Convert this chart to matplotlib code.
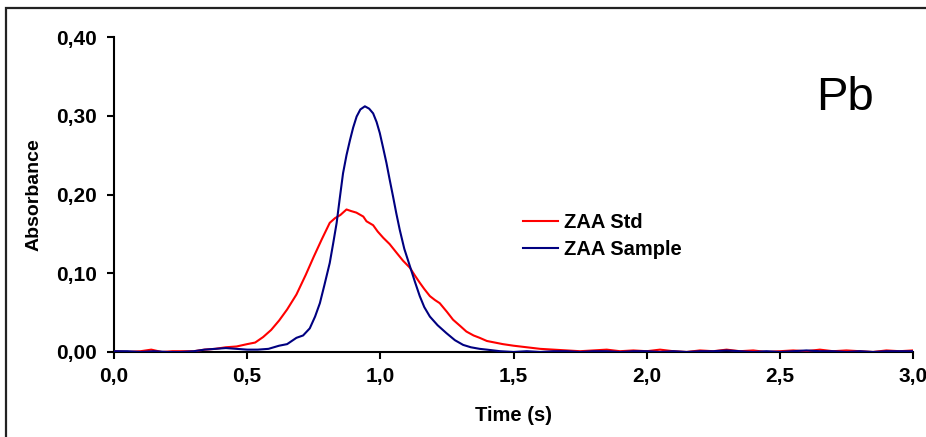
import numpy as np
import matplotlib.pyplot as plt
from matplotlib.patches import Rectangle

# ZAA Std (red)
t_std = [0.00, 0.05, 0.10, 0.14, 0.18, 0.22, 0.26, 0.30, 0.34, 0.38, 0.42, 0.46,
         0.50, 0.53, 0.56, 0.59, 0.62, 0.65, 0.685, 0.72, 0.75, 0.78, 0.81, 0.83,
         0.85, 0.873, 0.89, 0.91, 0.936, 0.948, 0.973, 0.99, 1.011, 1.035, 1.061,
         1.085, 1.111, 1.13, 1.148, 1.165, 1.186, 1.205, 1.223, 1.25, 1.273, 1.30,
         1.323, 1.35, 1.373, 1.40, 1.43, 1.46, 1.50, 1.55, 1.60, 1.65, 1.70, 1.75,
         1.80, 1.85, 1.90, 1.95, 2.00, 2.05, 2.10, 2.15, 2.20, 2.25, 2.30, 2.35,
         2.40, 2.45, 2.50, 2.55, 2.60, 2.65, 2.70, 2.75, 2.80, 2.85, 2.90, 2.95, 3.00]
a_std = [0.001, 0.000, 0.001, 0.003, 0.000, 0.001, 0.001, 0.001, 0.003, 0.004, 0.006, 0.007,
         0.010, 0.012, 0.019, 0.028, 0.040, 0.054, 0.073, 0.098, 0.121, 0.143, 0.164, 0.170,
         0.174, 0.181, 0.179, 0.177, 0.172, 0.166, 0.161, 0.153, 0.145, 0.137, 0.126,
         0.116, 0.107, 0.097, 0.088, 0.080, 0.071, 0.066, 0.062, 0.051, 0.041, 0.033,
         0.026, 0.021, 0.018, 0.014, 0.012, 0.010, 0.008, 0.006, 0.004, 0.003, 0.002, 0.001,
         0.002, 0.003, 0.001, 0.002, 0.001, 0.003, 0.001, 0.000, 0.002, 0.001, 0.003, 0.001,
         0.002, 0.000, 0.001, 0.002, 0.001, 0.003, 0.001, 0.002, 0.001, 0.000, 0.002, 0.001, 0.002]

# ZAA Sample (navy)
t_smp = [0.00, 0.05, 0.10, 0.15, 0.20, 0.25, 0.30, 0.34, 0.38, 0.42, 0.46, 0.50,
         0.54, 0.58, 0.62, 0.65, 0.685, 0.71, 0.735, 0.755, 0.773, 0.79, 0.81, 0.823,
         0.836, 0.848, 0.86, 0.873, 0.886, 0.898, 0.911, 0.925, 0.942, 0.958, 0.973,
         0.986, 0.998, 1.01, 1.023, 1.035, 1.048, 1.06, 1.073, 1.09, 1.111, 1.13,
         1.148, 1.165, 1.186, 1.215, 1.248, 1.28, 1.311, 1.34, 1.373, 1.40, 1.45,
         1.50, 1.55, 1.60, 1.65, 1.70, 1.75, 1.80, 1.85, 1.90, 1.95, 2.00, 2.05,
         2.10, 2.15, 2.20, 2.25, 2.30, 2.35, 2.40, 2.45, 2.50, 2.55, 2.60, 2.65,
         2.70, 2.75, 2.80, 2.85, 2.90, 2.95, 3.00]
a_smp = [0.001, 0.001, 0.000, 0.001, 0.000, 0.000, 0.001, 0.003, 0.004, 0.005, 0.004, 0.003,
         0.003, 0.004, 0.008, 0.010, 0.018, 0.021, 0.030, 0.045, 0.062, 0.085, 0.113, 0.138,
         0.164, 0.196, 0.227, 0.250, 0.269, 0.285, 0.299, 0.308, 0.312, 0.309, 0.303,
         0.292, 0.278, 0.260, 0.240, 0.219, 0.197, 0.176, 0.155, 0.131, 0.109, 0.089,
         0.071, 0.057, 0.045, 0.034, 0.024, 0.015, 0.009, 0.006, 0.004, 0.003, 0.001,
         0.000, 0.001, 0.000, 0.001, 0.001, 0.000, 0.001, 0.001, 0.000, 0.001, 0.001, 0.000,
         0.001, 0.000, 0.001, 0.001, 0.002, 0.001, 0.000, 0.001, 0.000, 0.001, 0.002, 0.001,
         0.001, 0.000, 0.001, 0.000, 0.001, 0.001, 0.001]

xticks = [0.0, 0.5, 1.0, 1.5, 2.0, 2.5, 3.0]
yticks = [0.0, 0.1, 0.2, 0.3, 0.4]

plt.rcParams['font.family'] = ['Liberation Sans', 'DejaVu Sans']
plt.rcParams['font.weight'] = 'bold'

fig = plt.figure(figsize=(9.26, 4.37), dpi=100)
ax = fig.add_axes([114/926, 1-352/437, 799/926, 315/437])

ax.plot(t_std, a_std, color='#ff0000', lw=1.5, label='ZAA Std')
ax.plot(t_smp, a_smp, color='#000080', lw=1.5, label='ZAA Sample')

ax.set_xlim(0, 3.0)
ax.set_ylim(0, 0.40)
ax.set_xticks(xticks)
ax.set_xticklabels([f"{v:.1f}".replace('.', ',') for v in xticks])
ax.set_yticks(yticks)
ax.set_yticklabels([f"{v:.2f}".replace('.', ',') for v in yticks])
ax.tick_params(axis='both', direction='out', length=5, width=1.5, labelsize=15, colors='black')
ax.tick_params(axis='y', pad=7)
ax.tick_params(axis='x', pad=6)
for s in ['top', 'right']:
    ax.spines[s].set_visible(False)
for s in ['left', 'bottom']:
    ax.spines[s].set_linewidth(1.5)
    ax.spines[s].set_zorder(0.5)

ax.set_xlabel('Time (s)', fontsize=14.5, fontweight='bold')
ax.set_ylabel('Absorbance', fontsize=14, fontweight='bold')
ax.xaxis.set_label_coords(0.5, -0.17)
ax.yaxis.set_label_coords(-0.089, 0.5)

ax.legend(loc='center left', bbox_to_anchor=(523/926, 1-236/437), bbox_transform=fig.transFigure,
          frameon=False, fontsize=14.5, handlelength=1.75, handletextpad=0.3,
          labelspacing=0.42, borderpad=0, borderaxespad=0)

fig.text(816/926, 1-110/437, 'Pb', fontsize=34, fontweight='normal', ha='left', va='baseline')

# frame around the chart area (cropped on right and bottom)
fig.patches.append(Rectangle((6/926, -0.1), 1.2, 1.1-8.5/437, transform=fig.transFigure,
                             fill=False, lw=1.6, edgecolor='#222222'))

fig.savefig('out.png', dpi=100)
